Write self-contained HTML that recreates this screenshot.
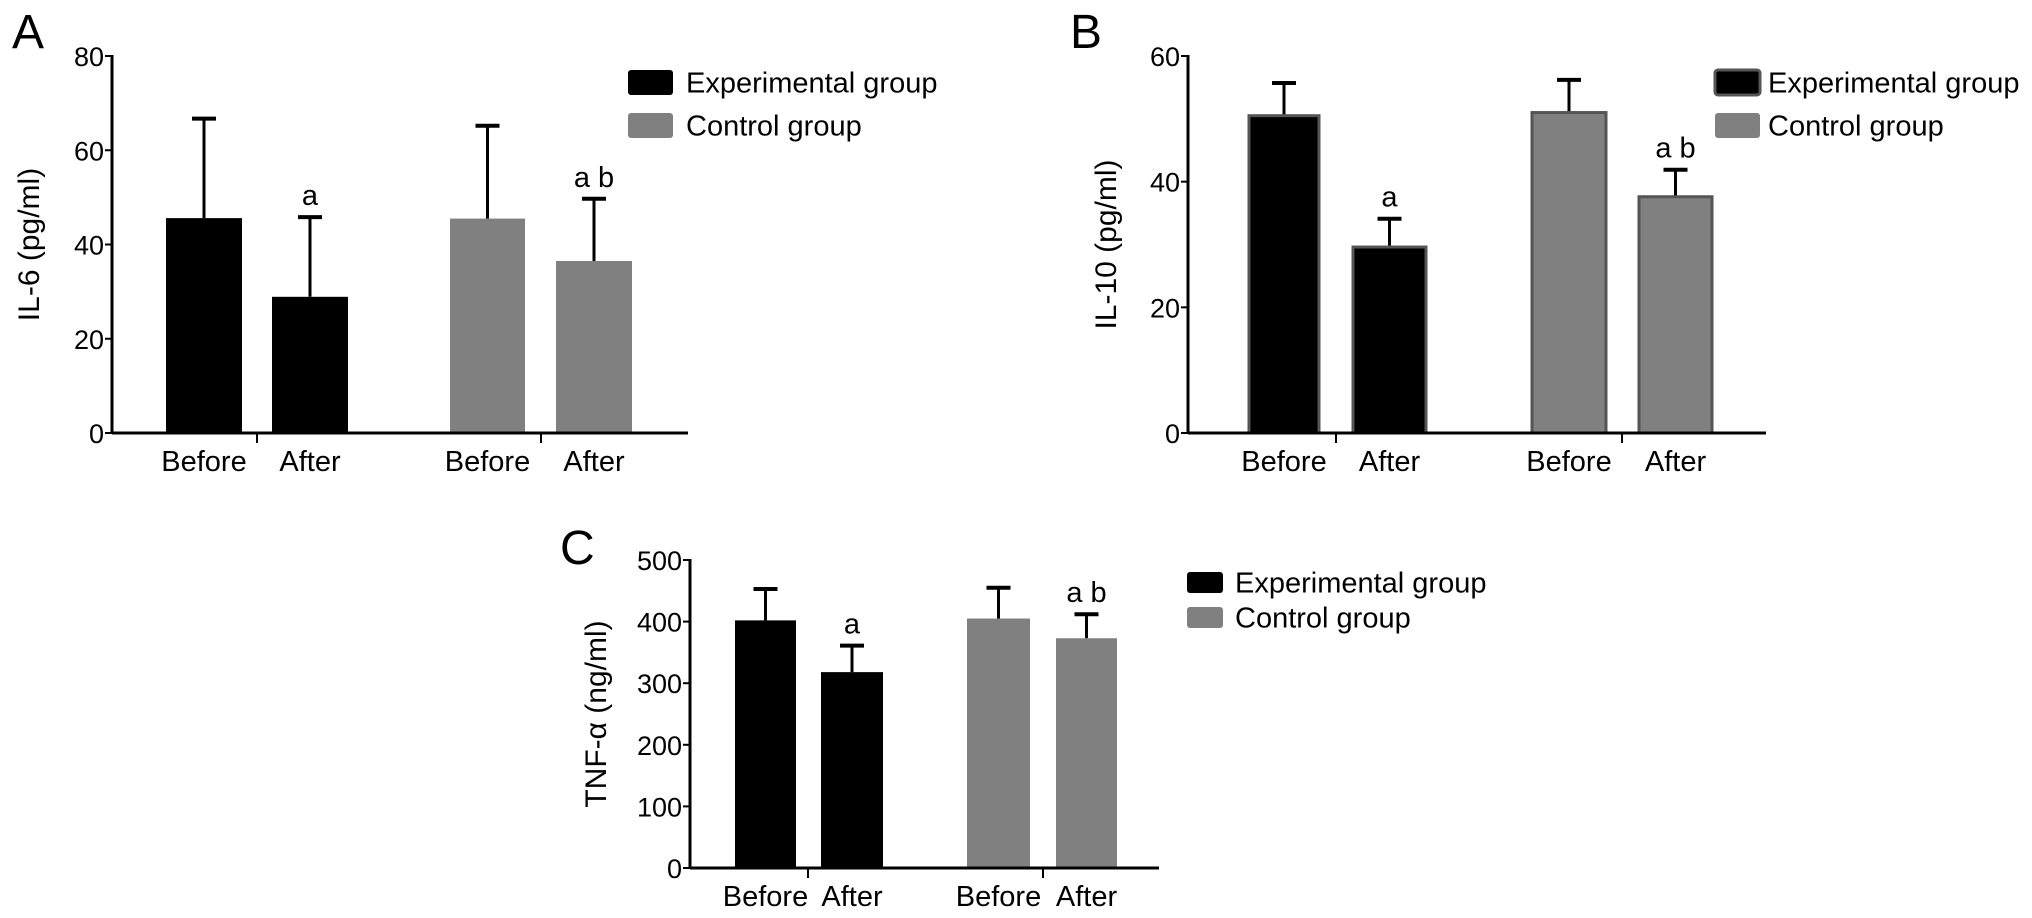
<!DOCTYPE html>
<html><head><meta charset="utf-8"><style>
html,body{margin:0;padding:0;background:#fff;}
svg{display:block;font-family:"Liberation Sans",Arial,sans-serif;}
</style></head><body>
<svg id="fig" width="2032" height="918" viewBox="0 0 2032 918" xmlns="http://www.w3.org/2000/svg"></svg>
<script>
const groupLabels = ["Before","After","Before","After"];
const seriesNames = ["Experimental group","Control group"];
const il6Values = [45.6, 28.9, 45.5, 36.5];
const il6Errors = [21.1, 16.9, 19.7, 13.2];
const il10Values = [50.5, 29.6, 51.0, 37.6];
const il10Errors = [5.2, 4.5, 5.2, 4.3];
const tnfValues = [402, 318, 405, 373];
const tnfErrors = [51, 43, 50, 39];
const il6Ticks = [0,20,40,60,80];
const il10Ticks = [0,20,40,60];
const tnfTicks = [0,100,200,300,400,500];
const sigLabels = ["", "a", "", "a b"];

const NS="http://www.w3.org/2000/svg";
const svg=document.getElementById('fig');
function mk(tag,attrs,parent,text){const e=document.createElementNS(NS,tag);for(const k in attrs)e.setAttribute(k,attrs[k]);if(text!==undefined)e.textContent=text;(parent||svg).appendChild(e);return e;}

const panels=[
 {id:'a',letter:'A',lx:12,ly:48,title:'IL-6 (pg/ml)',tx:29,ax:112,axEnd:688,y0:433,y1:56,max:80,ticks:il6Ticks,vals:il6Values,errs:il6Errors,
  bars:[[166,242],[272,348],[450,525],[556,632]],div:[257,541],xl:461,legX:628,legW:45,legY:[70,113],legH:25,textX:686,border:false},
 {id:'b',letter:'B',lx:1070,ly:48,title:'IL-10 (pg/ml)',tx:1106,ax:1188,axEnd:1766,y0:433,y1:56,max:60,ticks:il10Ticks,vals:il10Values,errs:il10Errors,
  bars:[[1249,1319],[1353,1426],[1532,1606],[1639,1712]],div:[1336,1622],xl:461,legX:1715,legW:45,legY:[70,113],legH:25,textX:1768,border:true},
 {id:'c',letter:'C',lx:560,ly:564,title:'TNF-α (ng/ml)',tx:596,ax:690,axEnd:1159,y0:868,y1:560,max:500,ticks:tnfTicks,vals:tnfValues,errs:tnfErrors,
  bars:[[735,796],[821,883],[967,1030],[1056,1117]],div:[808,1043],xl:896,legX:1187,legW:36,legY:[572,607],legH:21,textX:1235,border:false}
];
const colors=['#000','#000','#808080','#808080'];

panels.forEach(p=>{
  const g=mk('g',{});
  
  
  const ys=v=>p.y0-(v/p.max)*(p.y0-p.y1);
  const L=mk('text',{x:p.lx,y:p.ly,'font-size':48,fill:'#000'},g,p.letter);
  
  
  p.vals.forEach((v,i)=>{
    const [x0,x1]=p.bars[i];
    const cx=(x0+x1)/2;
    const top=ys(v+p.errs[i]);
    const el=mk('line',{x1:cx,x2:cx,y1:ys(v),y2:top,stroke:'#000','stroke-width':3},g);
    
    
    const cap=mk('line',{x1:cx-12,x2:cx+12,y1:top,y2:top,stroke:'#000','stroke-width':4},g);
    
    
    const b=mk('rect',{x:x0,y:ys(v),width:x1-x0,height:p.y0-ys(v),fill:colors[i],stroke:p.border?'#555':'none','stroke-width':p.border?3:0},g);
    
    
    const xl=mk('text',{x:cx,y:p.xl+10,'font-size':29,'text-anchor':'middle',fill:'#000'},g,groupLabels[i]);
    
    
    if(sigLabels[i]){
      const s=mk('text',{x:cx,y:top-12,'font-size':29,'text-anchor':'middle',fill:'#000'},g,sigLabels[i]);
      
      
    }
  });
  const ya=mk('line',{x1:p.ax,x2:p.ax,y1:p.y1-1,y2:p.y0+1,stroke:'#000','stroke-width':3},g);
  
  
  const xa=mk('line',{x1:p.ax,x2:p.axEnd,y1:p.y0,y2:p.y0,stroke:'#000','stroke-width':3},g);
  
  
  p.div.forEach(dx=>{
    const t=mk('line',{x1:dx,x2:dx,y1:p.y0,y2:p.y0+10,stroke:'#000','stroke-width':2},g);
    
    
  });
  p.ticks.forEach(tv=>{
    const y=ys(tv);
    const t=mk('line',{x1:p.ax-7,x2:p.ax,y1:y,y2:y,stroke:'#000','stroke-width':2},g);
    
    
    const tl=mk('text',{x:p.ax-8,y:y+10,'font-size':27,'text-anchor':'end',fill:'#000'},g,String(tv));
    
    
  });
  const cy=(p.y0+p.y1)/2;
  const yt=mk('text',{x:p.tx,y:cy,'font-size':30,'text-anchor':'middle',fill:'#000',transform:`rotate(-90 ${p.tx} ${cy})`,dy:10},g,p.title);
  
  
  seriesNames.forEach((n,k)=>{
    const r=mk('rect',{x:p.legX,y:p.legY[k],width:p.legW,height:p.legH,rx:3,fill:k?'#808080':'#000',stroke:(p.border&&!k)?'#555':'none','stroke-width':3},g);
    
    
    const t=mk('text',{x:p.textX,y:p.legY[k]+p.legH/2+10,'font-size':29,fill:'#000'},g,n);
    
    
  });
});
</script>
</body></html>
